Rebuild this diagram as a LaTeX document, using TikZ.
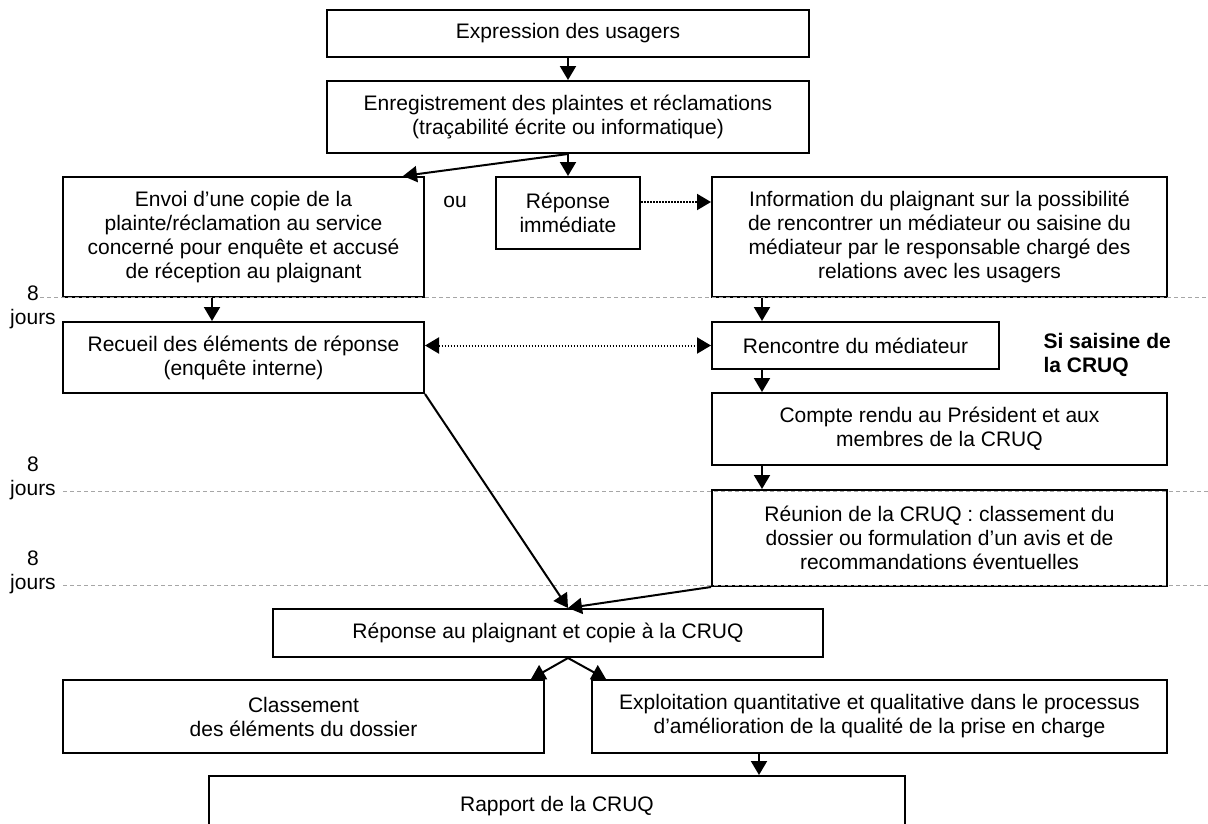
\documentclass[tikz,border=0pt]{standalone}
\usepackage{fontspec}
\setmainfont{Liberation Sans}
\usetikzlibrary{arrows.meta}
\begin{document}
\begin{tikzpicture}[x=1pt, y=-1pt,
    every node/.style={font=\fontsize{21}{24}\selectfont},
    box/.style={draw, line width=2pt, fill=white, align=center, inner sep=2pt},
    arr/.style={-{Triangle[length=14pt,width=16pt]}, line width=2pt},
    dotarr/.style={-{Triangle[length=14pt,width=16pt]}, line width=2pt, dash pattern=on 1.5pt off 1.5pt},
    guide/.style={gray!70, line width=0.8pt, dash pattern=on 4pt off 3pt},
    lbl/.style={align=center}
  ]
    \useasboundingbox (0,0) rectangle (1208,823);

    \node[box, minimum width=482, minimum height=47]  (expr)    at (568,33.5)   {Expression des usagers};
    \node[box, minimum width=482, minimum height=72]  (enreg)   at (568,117)    {Enregistrement des plaintes et réclamations\\(traçabilité écrite ou informatique)};
    \node[box, minimum width=361, minimum height=120] (envoi)   at (243.5,237)  {Envoi d’une copie de la\\plainte/réclamation au service\\concerné pour enquête et accusé\\de réception au plaignant};
    \node (ou) at (455,202) {ou};
    \node[box, minimum width=144, minimum height=72]  (repimm)  at (568,213)    {Réponse\\immédiate};
    \node[box, minimum width=455, minimum height=120] (info)    at (939.5,237)  {Information du plaignant sur la possibilité\\de rencontrer un médiateur ou saisine du\\médiateur par le responsable chargé des\\relations avec les usagers};
    \node[box, minimum width=361, minimum height=71]  (recueil) at (243.5,357.5) {Recueil des éléments de réponse\\(enquête interne)};
    \node[box, minimum width=287, minimum height=47]  (renc)    at (855.5,345.5) {Rencontre du médiateur};
    \node[align=left, anchor=west, font=\fontsize{21}{24}\selectfont\bfseries] (saisine) at (1040,355) {Si saisine de\\la CRUQ};
    \node[box, minimum width=455, minimum height=72]  (compte)  at (939.5,429)  {Compte rendu au Président et aux\\membres de la CRUQ};
    \node[box, minimum width=455, minimum height=96]  (reunion) at (939.5,538)  {Réunion de la CRUQ : classement du\\dossier ou formulation d’un avis et de\\recommandations éventuelles};
    \node[box, minimum width=550, minimum height=48]  (reppl)   at (548,633)    {Réponse au plaignant et copie à la CRUQ};
    \node[box, minimum width=481, minimum height=73]  (classe)  at (303.5,716.5) {Classement\\des éléments du dossier};
    \node[box, minimum width=575, minimum height=73]  (exploit) at (879.5,716.5) {Exploitation quantitative et qualitative dans le processus\\d’amélioration de la qualité de la prise en charge};
    \node[box, minimum width=696, minimum height=60]  (rapport) at (557,806)    {Rapport de la CRUQ};

    % delais
    \node[lbl] (j1) at (33,307) {8\\jours};
    \node[lbl] (j2) at (33,478) {8\\jours};
    \node[lbl] (j3) at (33,572) {8\\jours};
    \draw[guide] (40,297) -- (1208,297);
    \draw[guide] (63,491) -- (1208,491);
    \draw[guide] (63,585) -- (1208,585);

    \draw[arr] (expr) -- (enreg);
    \draw[arr] (enreg.south) -- (repimm.north);
    \draw[arr] (enreg.south) -- ([xshift=-22pt]envoi.north east);
    \draw[dotarr] ([yshift=11pt]repimm.east) -- ([yshift=11pt]repimm.east -| info.west);
    \draw[arr] ([xshift=-31.5pt]envoi.south) -- ([xshift=-31.5pt]envoi.south |- recueil.north);
    \draw[arr] ([xshift=51pt]info.south west) -- ([xshift=51pt]info.south west |- renc.north);
    \draw[dotarr, {Triangle[length=14pt,width=16pt]}-{Triangle[length=14pt,width=16pt]}] (recueil.east |- renc.west) -- (renc.west);
    \draw[arr] ([xshift=51pt]renc.south west) -- ([xshift=51pt]renc.south west |- compte.north);
    \draw[arr] ([xshift=51pt]compte.south west) -- ([xshift=51pt]compte.south west |- reunion.north);
    \draw[arr] (recueil.south east) -- ([xshift=20pt]reppl.north);
    \draw[arr] (reunion.south west) -- ([xshift=20pt]reppl.north);
    \draw[arr] ([xshift=20pt]reppl.south) -- ([xshift=-14pt]classe.north east);
    \draw[arr] ([xshift=20pt]reppl.south) -- ([xshift=15pt]exploit.north west);
    \draw[arr] ([xshift=168pt]exploit.south west) -- ([xshift=168pt]exploit.south west |- rapport.north);
\end{tikzpicture}
\end{document}
